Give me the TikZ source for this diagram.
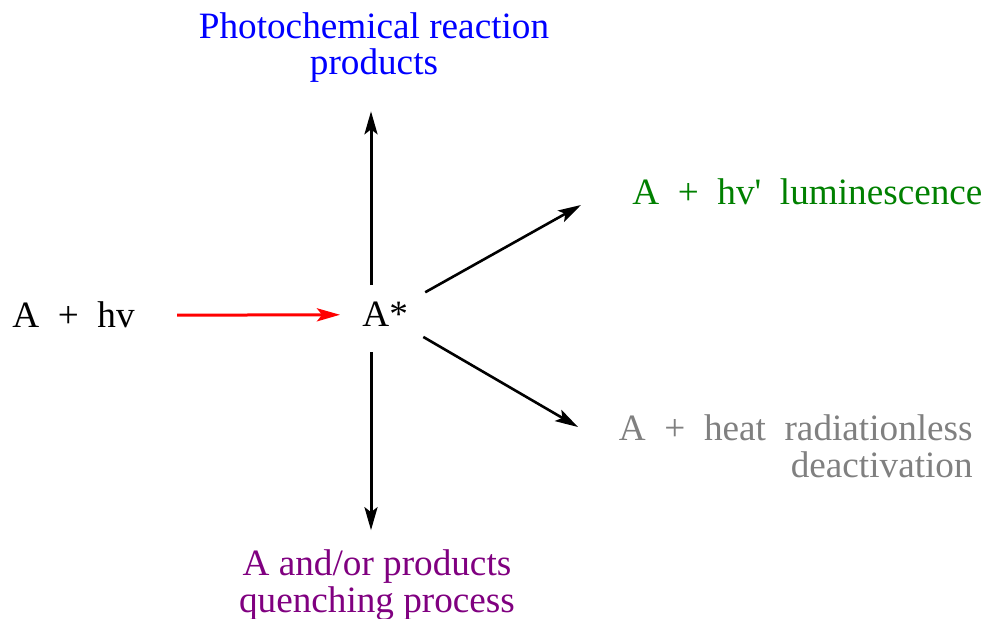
\documentclass[tikz,border=0pt]{standalone}
\usepackage{fontspec}
\setmainfont{Liberation Serif}
\usetikzlibrary{arrows.meta,calc}
\tikzset{
  txt/.style={inner sep=0pt, font=\fontsize{18.6pt}{18.3pt}\selectfont},
  pathln/.style={-{Stealth[length=11.5pt,width=6.5pt,inset=2.5pt]}, line width=1.3pt},
  mainln/.style={pathln, line width=1.5pt},
}
\definecolor{lightcolor}{RGB}{255,0,0}
\definecolor{photocolor}{RGB}{0,0,255}
\definecolor{lumicolor}{RGB}{0,128,0}
\definecolor{heatcolor}{RGB}{128,128,128}
\definecolor{quenchcolor}{RGB}{128,0,128}

\begin{document}
\begin{tikzpicture}[x=0.5pt, y=-0.5pt]
    \useasboundingbox (0,0) rectangle (983,619);
    % absorption
    \node[txt, anchor=base west] (reactant) at (12,328) {A~~+~~hv};
    \node[txt, anchor=base west] (excited) at (362,327) {A*};
    \draw[mainln, lightcolor, shorten <=21pt, shorten >=11pt] (reactant.east) -- (excited.west);
    % the four ways out of A*
    \node[txt, photocolor, align=center, anchor=base] (photo) at (374,75) {Photochemical reaction\\products};
    \node[txt, lumicolor, anchor=base west] (lumi) at (632,205) {A~~+~~hv\textquotesingle~~luminescence};
    \node[txt, heatcolor, align=right, anchor=base east] (heat) at (973,477) {A~~+~~heat~~radiationless\\deactivation};
    \node[txt, quenchcolor, align=center, anchor=base] (quench) at (377,612) {A and/or products\\quenching process};
    \coordinate (axis) at (371,317);
    \coordinate (lumitip) at (581,205);
    \coordinate (heattip) at (578,427);
    \draw[mainln, shorten <=8.5pt, shorten >=14pt] (axis |- excited.north) -- (axis |- photo.south);
    \draw[mainln, shorten <=12.5pt, shorten >=9.5pt] (axis |- excited.south) -- (axis |- quench.north);
    \draw[pathln, shorten <=10pt] (excited) -- (lumitip);
    \draw[pathln, shorten <=9.5pt] (excited) -- (heattip);
\end{tikzpicture}
\end{document}
